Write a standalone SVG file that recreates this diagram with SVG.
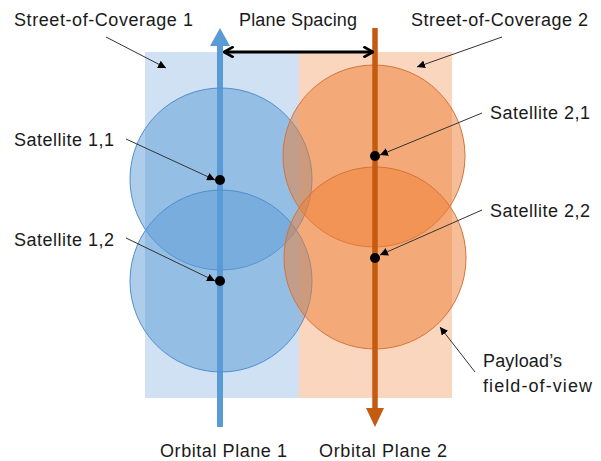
<svg xmlns="http://www.w3.org/2000/svg" width="601" height="461" viewBox="0 0 601 461">
<style>
text{font-family:"Liberation Sans",Arial,sans-serif;font-size:18px;fill:#1a1a1a}
.bc{fill:#5b9bd5;fill-opacity:0.5;stroke:#4f8fcf;stroke-width:1}
.oc{fill:#ed7d31;fill-opacity:0.5;stroke:#d4733a;stroke-width:1}
.lead{stroke:#333;stroke-width:1;fill:none;marker-end:url(#ah)}
.dot{fill:#000}
</style>
<defs>
<marker id="ah" viewBox="0 0 10 10" refX="10" refY="5" markerWidth="8" markerHeight="8" markerUnits="userSpaceOnUse" orient="auto">
<path d="M0,0 L10,5 L0,10 z" fill="#000"/>
</marker>
<marker id="open" viewBox="0 0 10 10" refX="9" refY="5" markerWidth="12" markerHeight="12" markerUnits="userSpaceOnUse" orient="auto-start-reverse">
<path d="M1,0.5 L9,5 L1,9.5" fill="none" stroke="#000" stroke-width="2.2"/>
</marker>
</defs>
<g id="street1"><rect x="145" y="52" width="154" height="346" fill="#cfe1f2"/></g>
<g id="street2"><rect x="299" y="52" width="153" height="346" fill="#fbd6bf"/></g>
<g id="plane1"><line x1="220" y1="427" x2="220" y2="44" stroke="#5b9bd5" stroke-width="6"/><path d="M210,46 L220,28 L230,46 z" fill="#5b9bd5"/></g>
<g id="fov11"><circle class="bc" cx="221" cy="179" r="91"/></g>
<g id="fov12"><circle class="bc" cx="221" cy="281" r="91"/></g>
<g id="fov21"><circle class="oc" cx="374" cy="156" r="91"/></g>
<g id="fov22"><circle class="oc" cx="375" cy="258" r="91"/></g>
<g id="plane2"><line x1="375" y1="28" x2="375" y2="410" stroke="#c55a11" stroke-width="5.5"/><path d="M366,408 L375,427 L384,408 z" fill="#c55a11"/></g>
<g id="sat11"><circle class="dot" cx="220" cy="180" r="5"/></g>
<g id="sat12"><circle class="dot" cx="220" cy="281" r="5"/></g>
<g id="sat21"><circle class="dot" cx="375" cy="156" r="5"/></g>
<g id="sat22"><circle class="dot" cx="375" cy="258" r="5"/></g>
<g id="connectors">
<line x1="224" y1="52" x2="373" y2="52" stroke="#000" stroke-width="3" marker-start="url(#open)" marker-end="url(#open)"/>
<line class="lead" x1="106" y1="37" x2="166" y2="68"/>
<line class="lead" x1="502" y1="37" x2="417" y2="67"/>
<line class="lead" x1="126" y1="139" x2="215" y2="180"/>
<line class="lead" x1="126" y1="238" x2="215" y2="281"/>
<line class="lead" x1="482" y1="113" x2="380" y2="155"/>
<line class="lead" x1="482" y1="210" x2="380" y2="255"/>
<line class="lead" x1="475" y1="372" x2="440" y2="327"/>
</g>
<g id="labels">
<text x="14" y="26" textLength="179">Street-of-Coverage 1</text>
<text x="239" y="26" textLength="118">Plane Spacing</text>
<text x="411" y="26" textLength="177">Street-of-Coverage 2</text>
<text x="14" y="146" textLength="100">Satellite 1,1</text>
<text x="14" y="246" textLength="100">Satellite 1,2</text>
<text x="490" y="119" textLength="100">Satellite 2,1</text>
<text x="490" y="217" textLength="100">Satellite 2,2</text>
<text x="483" y="367" textLength="79">Payload’s</text>
<text x="483" y="392" textLength="109">field-of-view</text>
<text x="160" y="457" textLength="127">Orbital Plane 1</text>
<text x="319" y="457" textLength="128">Orbital Plane 2</text>
</g>
</svg>
